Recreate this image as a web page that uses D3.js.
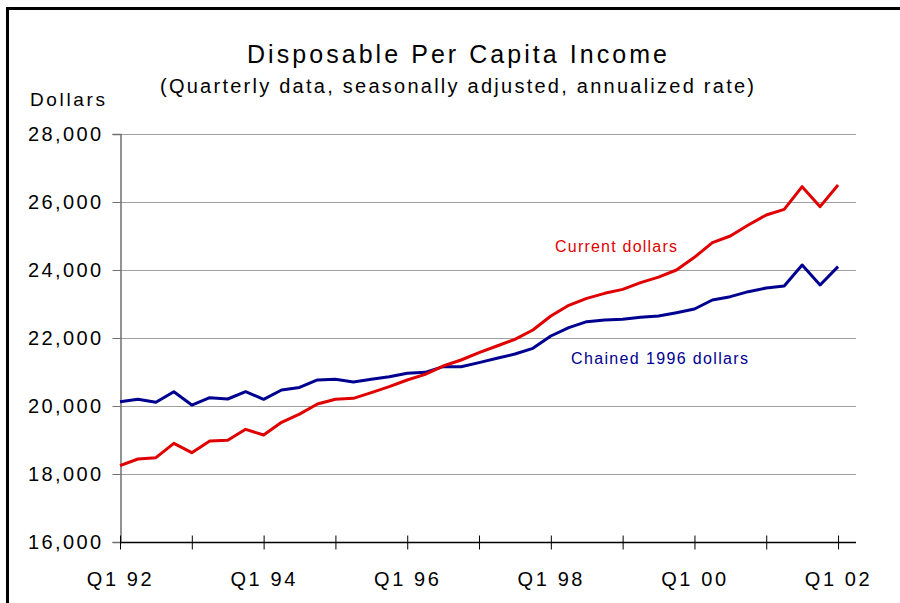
<!DOCTYPE html>
<html>
<head>
<meta charset="utf-8">
<script src="https://cdn.jsdelivr.net/npm/d3@7"></script>
<style>
  html, body { margin: 0; padding: 0; background: #fff; }
  svg { display: block; font-family: "Liberation Sans", Arial, sans-serif; }
</style>
</head>
<body>
<svg id="chart" width="900" height="603"></svg>
<script>
const quarters = [
  "Q1 92","Q2 92","Q3 92","Q4 92","Q1 93","Q2 93","Q3 93","Q4 93",
  "Q1 94","Q2 94","Q3 94","Q4 94","Q1 95","Q2 95","Q3 95","Q4 95",
  "Q1 96","Q2 96","Q3 96","Q4 96","Q1 97","Q2 97","Q3 97","Q4 97",
  "Q1 98","Q2 98","Q3 98","Q4 98","Q1 99","Q2 99","Q3 99","Q4 99",
  "Q1 00","Q2 00","Q3 00","Q4 00","Q1 01","Q2 01","Q3 01","Q4 01",
  "Q1 02"
];
const currentDollars = [
  18245, 18441, 18480, 18902, 18627, 18970, 18990, 19314,
  19147, 19520, 19760, 20059, 20197, 20225, 20392, 20569,
  20765, 20932, 21176, 21353, 21570, 21765, 21961, 22235,
  22647, 22961, 23167, 23314, 23431, 23627, 23790, 24000,
  24373, 24804, 25000, 25324, 25618, 25784, 26451, 25863,
  26500
];
const chainedDollars = [
  20126, 20197, 20108, 20421, 20029, 20245, 20206, 20421,
  20197, 20470, 20545, 20765, 20784, 20706, 20784, 20863,
  20961, 20990, 21157, 21157, 21275, 21402, 21529, 21696,
  22059, 22304, 22480, 22529, 22549, 22608, 22647, 22745,
  22853, 23118, 23216, 23363, 23471, 23529, 24147, 23559,
  24098
];
const yTicks = [16000, 18000, 20000, 22000, 24000, 26000, 28000];
const xTickLabels = ["Q1 92", "Q1 94", "Q1 96", "Q1 98", "Q1 00", "Q1 02"];

const svg = d3.select("#chart");
const plotL = 120, plotR = 856, plotT = 134, plotB = 542;

const x = d3.scaleLinear().domain([0, quarters.length]).range([plotL, plotR]);
const y = d3.scaleLinear().domain([16000, 28000]).range([plotB, plotT]);

// frame
svg.append("path")
  .attr("d", "M7.5,603 V8.5 H900")
  .attr("fill", "none").attr("stroke", "#000").attr("stroke-width", 3);

// gridlines
svg.append("g").selectAll("line")
  .data(yTicks.filter(v => v > 16000))
  .join("line")
  .attr("x1", plotL).attr("x2", plotR)
  .attr("y1", d => Math.round(y(d)) + 0.5).attr("y2", d => Math.round(y(d)) + 0.5)
  .attr("stroke", "#a0a0a0").attr("stroke-width", 1);

// y axis
const yAxis = svg.append("g")
  .attr("transform", `translate(${plotL + 0.5},0)`)
  .call(d3.axisLeft(y).tickValues(yTicks).tickSize(8).tickPadding(9)
    .tickFormat(d3.format(",")));
yAxis.select(".domain").attr("stroke", "#707070").attr("stroke-width", 1.5);
yAxis.selectAll(".tick line").attr("stroke", "#707070");
yAxis.selectAll(".tick text")
  .attr("font-size", 20).attr("fill", "#000")
  .attr("font-family", "Liberation Sans, Arial, sans-serif")
  .style("letter-spacing", "2.4px");

// x axis
const xTickVals = d3.range(0, quarters.length, 4);
const xAxis = svg.append("g")
  .attr("transform", `translate(0,${plotB + 0.5})`)
  .call(d3.axisBottom(x).tickValues(xTickVals).tickSize(7).tickPadding(22)
    .tickFormat(d => {
      const lbl = quarters[d];
      return xTickLabels.includes(lbl) ? lbl : "";
    }));
xAxis.select(".domain").attr("d", `M${plotL},0H${plotR}`).attr("stroke", "#000").attr("stroke-width", 1.5);
xAxis.selectAll(".tick line").attr("y1", -7).attr("y2", 7).attr("stroke", "#000");
xAxis.selectAll(".tick text")
  .attr("font-size", 20).attr("fill", "#000")
  .attr("font-family", "Liberation Sans, Arial, sans-serif")
  .style("letter-spacing", "2.6px");

// lines
const line = d3.line().x((d, i) => x(i)).y(d => y(d));
svg.append("path").datum(chainedDollars)
  .attr("d", line).attr("fill", "none")
  .attr("stroke", "#000090").attr("stroke-width", 3).attr("stroke-linejoin", "round");
svg.append("path").datum(currentDollars)
  .attr("d", line).attr("fill", "none")
  .attr("stroke", "#e00000").attr("stroke-width", 3).attr("stroke-linejoin", "round");

// texts
function txt(s, px, py, size, len, anchor, color) {
  const t = svg.append("text")
    .attr("x", px).attr("y", py)
    .attr("font-size", size)
    .attr("text-anchor", anchor)
    .attr("fill", color || "#000")
    .text(s);
  if (len) t.attr("textLength", len).attr("lengthAdjust", "spacing");
  return t;
}
txt("Disposable Per Capita Income", 457, 63, 25, 420, "middle");
txt("(Quarterly data, seasonally adjusted, annualized rate)", 457, 93, 20, 594, "middle");
txt("Dollars", 30, 106, 19, 75, "start");
txt("Current dollars", 555, 252, 16, 122, "start", "#e00000");
txt("Chained 1996 dollars", 571, 364, 16, 177, "start", "#000090");
</script>
</body>
</html>
